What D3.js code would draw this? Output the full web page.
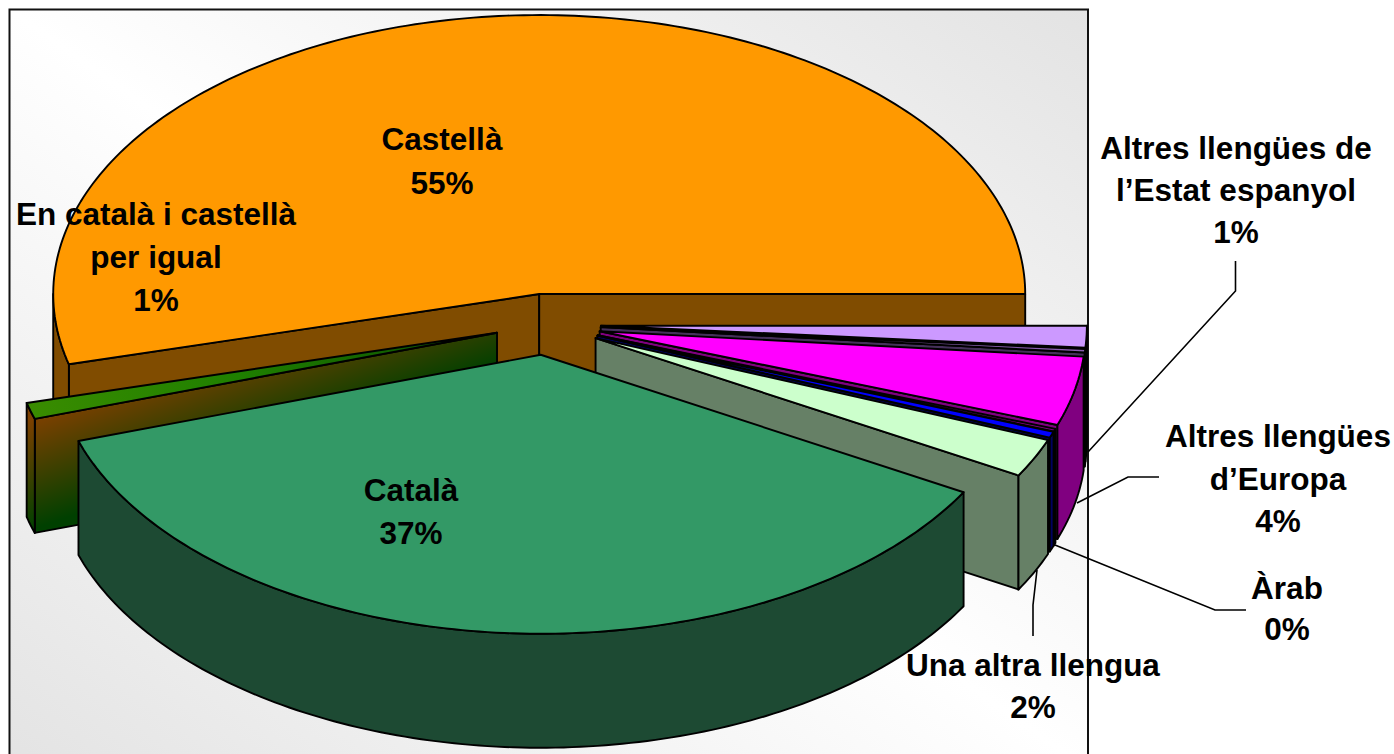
<!DOCTYPE html>
<html><head><meta charset="utf-8">
<script src="https://cdn.jsdelivr.net/npm/d3@7/dist/d3.min.js"></script>
<style>html,body{margin:0;padding:0;background:#fff;overflow:hidden}svg{display:block}
text{font-family:"Liberation Sans",Arial,sans-serif;font-weight:700;font-size:31.5px;fill:#000;text-anchor:middle}</style>
</head><body><svg id="c" width="1394" height="754"></svg>
<script>
// Clockwise from the right-hand edge of the pie
const categories = ["Altres llengües de l’Estat espanyol","(sense etiqueta)","Altres llengües d’Europa","(sense etiqueta)","Àrab","Una altra llengua","Català","En català i castellà per igual","Castellà"];
const shares     = [1.25, 0.2, 4.0, 0.15, 0.35, 2.25, 36.8, 0.95, 54.05];
const topColors  = ["#cc99ff","#8a5fb0","#ff00ff","#800080","#0000ff","#ccffcc","#339966","url(#wedgeTop)","#ff9900"];
const wallColors = ["#664c80","#45305a","#800080","#400040","#000060","#668066","#1d4a33","url(#wedgeWall)","#804c00"];
const drawOrder  = [8,0,1,2,3,4,5,7,6];

const labels = [
  {lines:["Castellà","55%"]},
  {lines:["En català i castellà","per igual","1%"]},
  {lines:["Català","37%"]},
  {lines:["Altres llengües de","l’Estat espanyol","1%"]},
  {lines:["Altres llengües","d’Europa","4%"]},
  {lines:["Àrab","0%"]},
  {lines:["Una altra llengua","2%"]}
];
const labelSpots = [[442,150,43.5],[156,225,43],[411,501,43],[1236,159,42],[1278,447,42.5],[1287,599,41],[1033,676,42]];
const leaders = [
  [[1235.5,261],[1235.5,291],[1088,452]],
  [[1159,477],[1128,477],[1077,503]],
  [[1246,610],[1215,610],[1055,545]],
  [[1033,636],[1033,605],[1037,570]]
];

const svg = d3.select("#c");
const defs = svg.append("defs");
const bg = defs.append("linearGradient").attr("id","bg").attr("x1",1).attr("y1",0).attr("x2",0).attr("y2",1);
[[0,"#e3e3e3"],[.5,"#ffffff"],[1,"#e3e3e3"]].forEach(s=>bg.append("stop").attr("offset",s[0]).attr("stop-color",s[1]));
const wt = defs.append("linearGradient").attr("id","wedgeTop").attr("gradientUnits","userSpaceOnUse").attr("x1",25).attr("y1",405).attr("x2",497).attr("y2",333);
[[0,"#3a8c00"],[.45,"#1f8000"],[1,"#0a4a00"]].forEach(s=>wt.append("stop").attr("offset",s[0]).attr("stop-color",s[1]));
const ww = defs.append("linearGradient").attr("id","wedgeWall").attr("gradientUnits","userSpaceOnUse").attr("x1",33).attr("y1",418).attr("x2",68).attr("y2",517);
[[0,"#7d4000"],[1,"#004000"]].forEach(s=>ww.append("stop").attr("offset",s[0]).attr("stop-color",s[1]));
defs.append("clipPath").attr("id","plot").append("rect").attr("x",0).attr("y",0).attr("width",1088).attr("height",754);

// frame
svg.append("rect").attr("x",9.5).attr("y",9.5).attr("width",1078.5).attr("height",760)
  .attr("fill","url(#bg)").attr("stroke","#111").attr("stroke-width",2);

// projection of the tilted unit disc on the page
const cx = 546, cy = 324.5, depth = 114;
const explodeOf = i => i===7 ? 0.105 : i===8 ? 0.11 : i===6 ? 0.109 : 0.113;
const sx = d3.scaleLinear().domain([-1,1]).range([-486,486]);
const sy = d3.scaleLinear().domain([-1,1]).range([-279,279]);
const pie = d3.pie().sort(null).value(d=>d).startAngle(Math.PI/2).endAngle(Math.PI/2+2*Math.PI);
const arcs = pie(shares).map(a=>({...a, t0:a.startAngle-Math.PI/2, t1:a.endAngle-Math.PI/2}));
const line = d3.line();
const closed = pts => line(pts)+"Z";

const g = svg.append("g").attr("clip-path","url(#plot)").attr("stroke","#000").attr("stroke-width",1.9).attr("stroke-linejoin","round");

function geom(a,i){
  const mid=(a.t0+a.t1)/2, e=explodeOf(i);
  const ax=cx+sx(e*Math.cos(mid)), ay=cy+sy(e*Math.sin(mid));
  const at=t=>[ax+sx(Math.cos(t)), ay+sy(Math.sin(t))];
  const steps=Math.max(2,Math.ceil((a.t1-a.t0)/(Math.PI/180)));
  const ts=d3.range(steps+1).map(k=>a.t0+(a.t1-a.t0)*k/steps);
  return {apex:[ax,ay],at,ts};
}
const down = p=>[p[0],p[1]+depth];

drawOrder.forEach(i=>{
  const a=arcs[i], {apex,at,ts}=geom(a,i);
  // radial cut faces that look toward the viewer
  if(Math.cos(a.t0)<0){const p=at(a.t0);g.append("path").attr("d",closed([apex,p,down(p),down(apex)])).attr("fill",wallColors[i]);}
  if(Math.cos(a.t1)>0){const p=at(a.t1);g.append("path").attr("d",closed([apex,p,down(p),down(apex)])).attr("fill",wallColors[i]);}
  // outer rim on the near half of the disc only
  const vis=ts.filter(t=>t<=Math.PI);
  if(a.t0<Math.PI && a.t1>Math.PI) vis.push(Math.PI);
  if(vis.length>1){
    const rim=vis.map(at);
    g.append("path").attr("d",closed(rim.concat(rim.map(down).reverse()))).attr("fill",wallColors[i]);
  }
  // top
  g.append("path").attr("d",closed([apex].concat(ts.map(at)))).attr("fill",topColors[i]);
});

// leaders
svg.append("g").selectAll("path").data(leaders).join("path")
  .attr("d",d=>line(d)).attr("fill","none").attr("stroke","#000").attr("stroke-width",1.6);

// labels
labels.forEach((l,i)=>{
  const [x,y,dy]=labelSpots[i];
  const t=svg.append("text");
  l.lines.forEach((s,k)=>t.append("tspan").attr("x",x).attr("y",y+k*dy).text(s));
});
</script></body></html>
